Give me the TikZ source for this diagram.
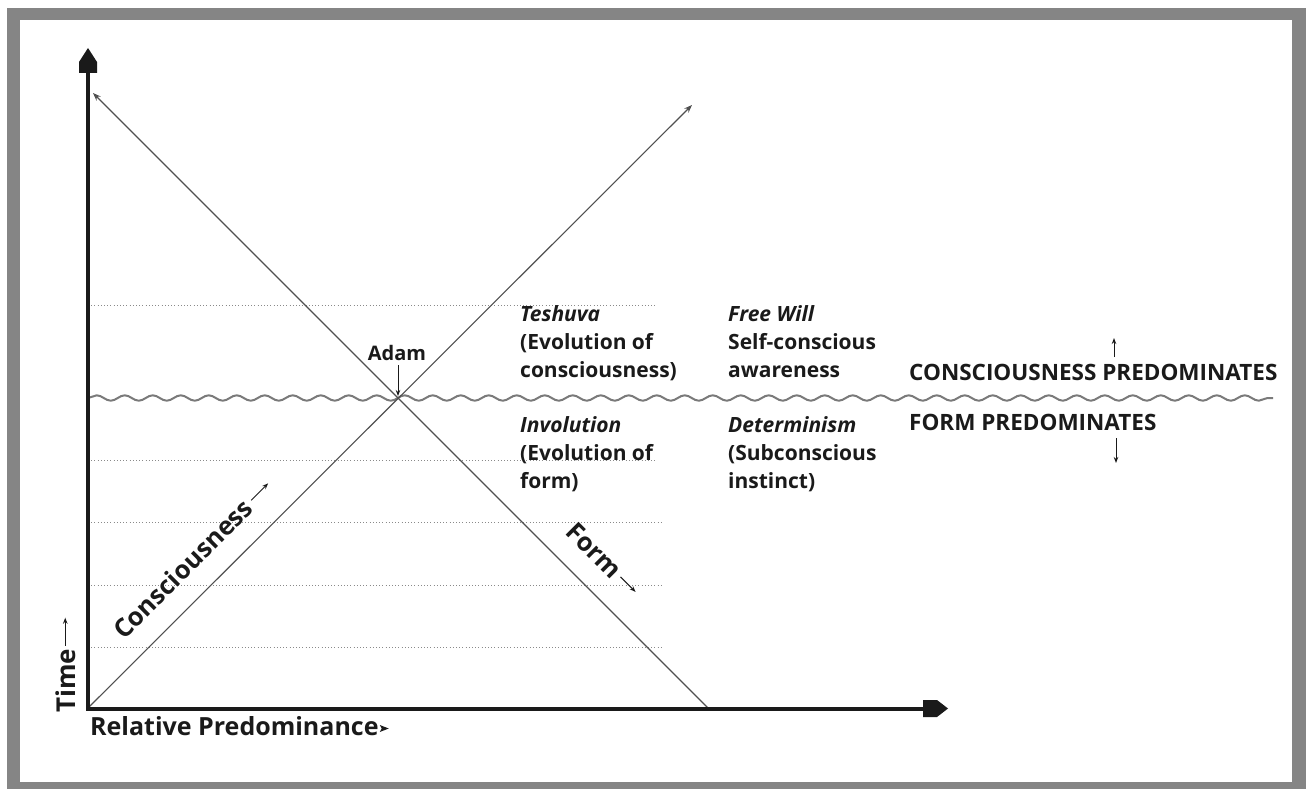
\documentclass[tikz,border=0pt]{standalone}
\usepackage{fontspec}
\setmainfont{Open Sans}
\usetikzlibrary{decorations.pathmorphing,arrows.meta,calc}

\definecolor{framegray}{HTML}{858585}
\definecolor{ink}{HTML}{1A1A1A}
\definecolor{thinline}{HTML}{505050}
\definecolor{dotgray}{HTML}{8A8A8A}
\definecolor{wavegray}{HTML}{7A7A7A}

\begin{document}
\begin{tikzpicture}[x=1pt,y=-1pt,
  txt/.style={inner sep=0pt, anchor=base west, text=ink,
              font=\bfseries\fontsize{21}{25}\selectfont},
  ittxt/.style={txt, font=\bfseries\itshape\fontsize{21}{25}\selectfont},
  capstxt/.style={txt, font=\bfseries\fontsize{22.5}{26}\selectfont},
  biglbl/.style={inner sep=0pt, text=ink, font=\bfseries\fontsize{25.5}{30}\selectfont},
  axisline/.style={line width=4pt, draw=ink},
  axishead/.style={fill=ink},
  ray/.style={draw=thinline, line width=1.1pt, -{Stealth[length=8pt,width=6pt]}},
  smallarrow/.style={draw=ink, line width=1pt, -{Stealth[length=6pt,width=4.5pt]}},
  gridline/.style={draw=dotgray, line width=1pt, dash pattern=on 1pt off 2.2pt},
  waveline/.style={draw=wavegray, line width=2pt, decorate,
                   decoration={snake, segment length=28pt, amplitude=2.7pt}}]

% page and grey frame
\useasboundingbox (0,0) rectangle (1306,789);
\fill[white] (0,0) rectangle (1306,789);
\fill[framegray] (7,8) rectangle (1306,789);
\fill[white] (20,20) rectangle (1292,782);

% key points
\coordinate (O) at (88,708);
\coordinate (ytop) at (88,66);
\coordinate (xend) at (926,708.5);
\coordinate (ctip) at (692,105);
\coordinate (ftip) at (93,93);
\coordinate (fend) at (708,708);
\coordinate (adampt) at (398,396);

% dotted time levels
\foreach \yy/\xx in {305/657, 460/657, 522/663, 585/663, 647/663}
  \draw[gridline] (88,\yy) -- (\xx,\yy);

% wavy threshold
\draw[waveline] (88,398) -- (1273,398);

% the two diagonal rays
\draw[ray] (O) -- (ctip);
\draw[ray] (fend) -- (ftip);

% axes with block heads
\draw[axisline] (88,710) -- (ytop);
\fill[axishead] (79,73) -- (79,62) -- (88,48) -- (97,62) -- (97,73) -- cycle;
\draw[axisline] (86,708.5) -- (xend);
\fill[axishead] (923,700) -- (937,700) -- (948,708.5) -- (937,717) -- (923,717) -- cycle;

% Adam
\node[biglbl, font=\bfseries\fontsize{20}{24}\selectfont, anchor=base] (adam) at (397,360) {Adam};
\draw[smallarrow] (398,365) -- (adampt);

% upper region
\node[ittxt] (tesh) at (520,321) {Teshuva};
\node[txt] (tesh2) at (520,349) {(Evolution of};
\node[txt] (tesh3) at (520,377) {consciousness)};
\node[ittxt] (fw) at (728,321) {Free Will};
\node[txt] (fw2) at (728,349) {Self-conscious};
\node[txt] (fw3) at (728,377) {awareness};

% lower region
\node[ittxt] (inv) at (520,432) {Involution};
\node[txt] (inv2) at (520,460) {(Evolution of};
\node[txt] (inv3) at (520,488) {form)};
\node[ittxt] (det) at (728,432) {Determinism};
\node[txt] (det2) at (728,460) {(Subconscious};
\node[txt] (det3) at (728,488) {instinct)};

% region captions
\node[capstxt] (cpred) at (909,380) {CONSCIOUSNESS PREDOMINATES};
\node[capstxt] (fpred) at (909,430) {FORM PREDOMINATES};
\coordinate (upa) at (1114,357);
\coordinate (upb) at (1114,338);
\coordinate (dna) at (1116,438);
\coordinate (dnb) at (1116,463);
\draw[smallarrow] (upa) -- (upb);
\draw[smallarrow] (dna) -- (dnb);

% ray labels
\node[biglbl, rotate=45, anchor=base west] (clbl) at (124,641) {Consciousness};
\draw[smallarrow] ($(clbl.east)+(3,-3)$) -- ++(17,-17);
\node[biglbl, rotate=-45, anchor=base west] (flbl) at (564,533) {Form};
\draw[smallarrow] ($(flbl.east)+(3,3)$) -- ++(15,15);

% axis labels
\node[biglbl, font=\bfseries\fontsize{26}{30}\selectfont, rotate=90, anchor=base west] (time) at (75,713) {Time};
\draw[smallarrow] ($(time.east)+(0,-3)$) -- ++(0,-28);
\node[biglbl, font=\bfseries\fontsize{25}{30}\selectfont, anchor=base west] (rp) at (90,735) {Relative Predominance};
\fill[ink] ($(rp.base east)+(1,-10)$) -- ++(9,3.5) -- ++(-9,3.5) -- ++(2,-3.5) -- cycle;
\end{tikzpicture}
\end{document}
